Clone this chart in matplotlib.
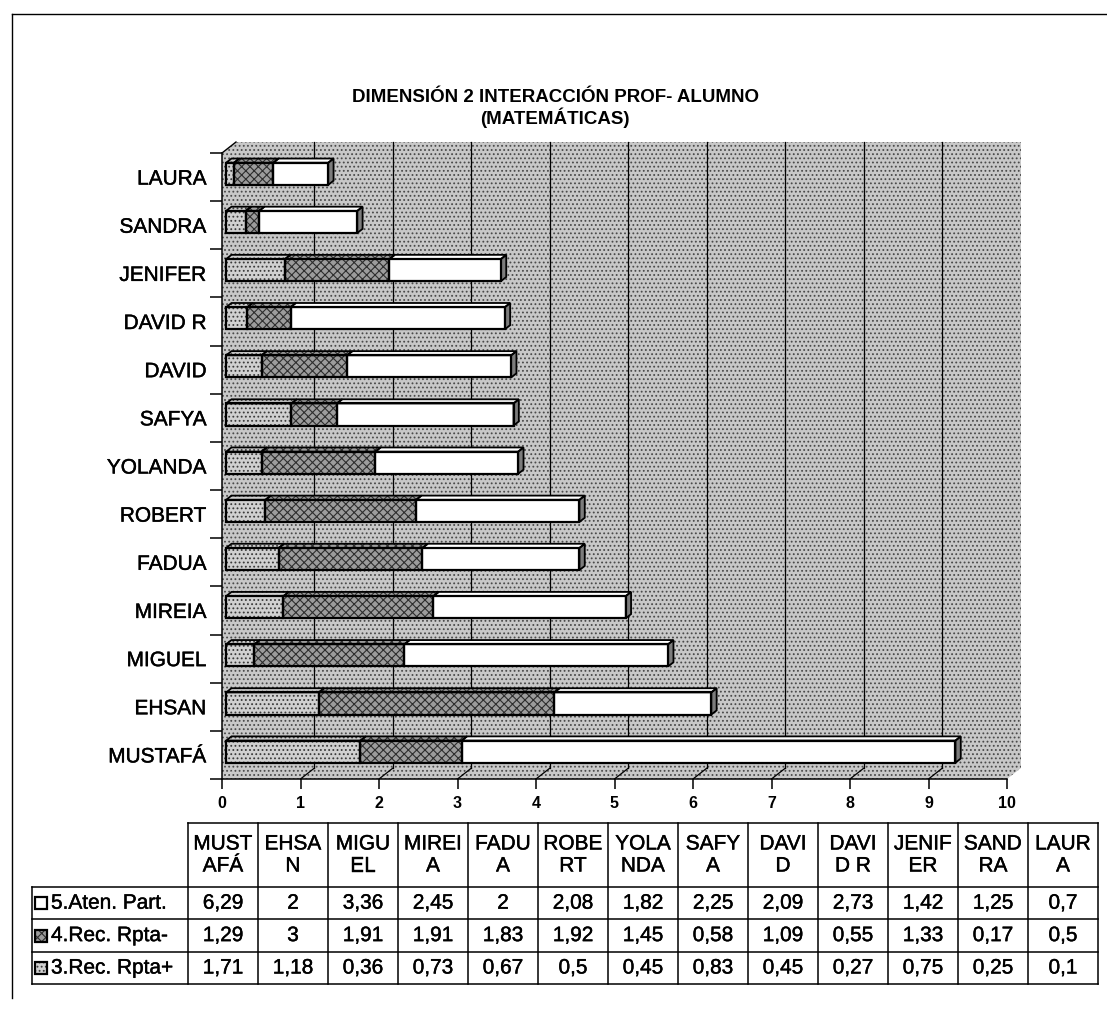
import numpy as np
import matplotlib.pyplot as plt
import matplotlib.patheffects as pe
from matplotlib.patches import Polygon, Rectangle
from matplotlib.lines import Line2D

plt.rcParams['font.family'] = ['Liberation Sans', 'DejaVu Sans']
plt.rcParams['hatch.linewidth'] = 0.8

# ---------------------------------------------------------------------------
# DATA  (bottom of the chart first, same order as the table columns)
# ---------------------------------------------------------------------------

names = ["MUSTAFÁ", "EHSAN", "MIGUEL", "MIREIA", "FADUA", "ROBERT", "YOLANDA",
         "SAFYA", "DAVID", "DAVID R", "JENIFER", "SANDRA", "LAURA"]
heads = ["MUST\nAFÁ", "EHSA\nN", "MIGU\nEL", "MIREI\nA", "FADU\nA", "ROBE\nRT",
         "YOLA\nNDA", "SAFY\nA", "DAVI\nD", "DAVI\nD R", "JENIF\nER", "SAND\nRA",
         "LAUR\nA"]

aten_part = [6.29, 2, 3.36, 2.45, 2, 2.08, 1.82, 2.25, 2.09, 2.73, 1.42, 1.25, 0.7]
rec_neg   = [1.29, 3, 1.91, 1.91, 1.83, 1.92, 1.45, 0.58, 1.09, 0.55, 1.33, 0.17, 0.5]
rec_pos   = [1.71, 1.18, 0.36, 0.73, 0.67, 0.5, 0.45, 0.83, 0.45, 0.27, 0.75, 0.25, 0.1]

series_labels = ["5.Aten. Part.", "4.Rec. Rpta-", "3.Rec. Rpta+"]

title_1 = "DIMENSIÓN 2 INTERACCIÓN PROF- ALUMNO"
title_2 = "(MATEMÁTICAS)"

# fill styles: (base colour, hatch, hatch colour)
STY_WALL = ('#c8c8c8', '....', '#4a4a4a')
STY_POS  = ('#d0d0d0', '....', '#3a3a3a')
STY_NEG  = ('#9c9c9c', 'xxxx', '#2e2e2e')
STY_ATEN = ('#ffffff', '', '#ffffff')

# slightly thickened glyphs for the labels and the table
heavy = [pe.withStroke(linewidth=0.3, foreground='black')]

# ---------------------------------------------------------------------------
# FIGURE / AXES
# ---------------------------------------------------------------------------

W, H = 1107, 1009


def fx(px):
    return px / W


def fy(py):
    return 1 - py / H


fig = plt.figure(figsize=(W / 100, H / 100), dpi=100)
ax = fig.add_axes([fx(222), fy(779), fx(1007) - fx(222), fy(153) - fy(779)])
ax.set_xlim(0, 10)
ax.set_ylim(-0.5, 12.5)

DX, DY = 0.178, 0.228      # depth of the 3-D box in data units
F1 = 0.30                  # bar front plane (fraction of box depth)
FB = 0.38                  # bar thickness (fraction of box depth)
BH = 0.46                  # bar face height


def shaded(xy, style, z, outline=None, lw=1.0):
    base, hatch, hcol = style
    ax.add_patch(Polygon(xy, closed=True, facecolor=base, edgecolor=hcol,
                         hatch=hatch, lw=0, zorder=z, clip_on=False))
    if outline:
        ax.add_patch(Polygon(xy, closed=True, fill=False, edgecolor=outline,
                             lw=lw, zorder=z + 0.1, clip_on=False))


# walls and floor
y0, y1 = -0.5, 12.5
shaded([(DX, y0 + DY), (10 + DX, y0 + DY), (10 + DX, y1 + DY), (DX, y1 + DY)], STY_WALL, 0)
shaded([(0, y0), (DX, y0 + DY), (DX, y1 + DY), (0, y1)], STY_WALL, 0)
shaded([(0, y0), (10, y0), (10 + DX, y0 + DY), (DX, y0 + DY)], STY_WALL, 0)

for k in range(1, 10):
    ax.plot([k + DX, k + DX], [y0 + DY, y1 + DY], color='k', lw=0.9, zorder=1, clip_on=False)
    ax.plot([k, k + DX], [y0, y0 + DY], color='k', lw=0.9, zorder=1, clip_on=False)
ax.plot([0, DX], [y1, y1 + DY], color='k', lw=1.0, zorder=1, clip_on=False)

# ---------------------------------------------------------------------------
# STACKED 3-D BARS
# ---------------------------------------------------------------------------

ypos = np.arange(len(names))
yc = ypos + F1 * DY
pos = np.array(rec_pos)
neg = np.array(rec_neg)
att = np.array(aten_part)
segments = [(pos, np.zeros_like(pos), STY_POS),
            (neg, pos, STY_NEG),
            (att, pos + neg, STY_ATEN)]

bdx, bdy = FB * DX, FB * DY
for vals, lefts, sty in segments:
    base, hatch, hcol = sty
    x0 = lefts + F1 * DX
    ax.barh(yc, vals, left=x0, height=BH, color=base, edgecolor=hcol,
            hatch=hatch, lw=0, zorder=3)
    ax.barh(yc, vals, left=x0, height=BH, fill=False, edgecolor='k',
            lw=1.6, zorder=4)
    for xl, w, y in zip(x0, vals, yc):
        yt = y + BH / 2
        shaded([(xl, yt), (xl + w, yt), (xl + w + bdx, yt + bdy), (xl + bdx, yt + bdy)],
               sty, 3, outline='k', lw=1.3)

# end caps of the bars
ends = pos + neg + att + F1 * DX
for xe, y in zip(ends, yc):
    yb, yt = y - BH / 2, y + BH / 2
    shaded([(xe, yb), (xe + bdx, yb + bdy), (xe + bdx, yt + bdy), (xe, yt)],
           ('#7c7c7c', '', '#7c7c7c'), 3, outline='k', lw=1.3)

# ---------------------------------------------------------------------------
# AXES DECORATION
# ---------------------------------------------------------------------------

for s in ['top', 'right']:
    ax.spines[s].set_visible(False)
for s in ['left', 'bottom']:
    ax.spines[s].set_linewidth(1.1)
    ax.spines[s].set_zorder(2)

ax.set_xticks(range(11))
ax.tick_params(axis='x', length=7, width=1.1, direction='out', pad=5, labelsize=11.5)
for lbl in ax.get_xticklabels():
    lbl.set_fontweight('bold')

ax.set_yticks(ypos)
ax.set_yticklabels(names, fontsize=15)
for lbl in ax.get_yticklabels():
    lbl.set_path_effects(heavy)
ax.set_yticks(np.arange(-0.5, 13, 1), minor=True)
ax.tick_params(axis='y', which='major', length=0, pad=11)
ax.tick_params(axis='y', which='minor', length=8.5, width=1.1, direction='out')

fig.text(fx(555), fy(97), title_1, ha='center', va='center', fontsize=13.5, fontweight='bold')
fig.text(fx(555), fy(118), title_2, ha='center', va='center', fontsize=13.5, fontweight='bold')

# outer frame
fig.add_artist(Line2D([fx(12), fx(12)], [fy(14), fy(998)], color='k', lw=1))
fig.add_artist(Line2D([fx(12), 1], [fy(14), fy(14)], color='k', lw=1))

# ---------------------------------------------------------------------------
# DATA TABLE
# ---------------------------------------------------------------------------

c0, cw = 188, 70
lab_x0 = 32
head_top, head_bot, rh = 823, 887, 32.4
n = len(names)
c1 = c0 + n * cw
row_y = [head_bot + i * rh for i in range(4)]


def hline(py, xa, xb):
    fig.add_artist(Line2D([fx(xa), fx(xb)], [fy(py), fy(py)], color='k', lw=1.1))


def vline(px, ya, yb):
    fig.add_artist(Line2D([fx(px), fx(px)], [fy(ya), fy(yb)], color='k', lw=1.1))


hline(head_top, c0, c1)
for py in row_y:
    hline(py, lab_x0, c1)
vline(lab_x0, head_bot, row_y[-1])
for j in range(n + 1):
    vline(c0 + j * cw, head_top, row_y[-1])

TFS = 15
for j, hd in enumerate(heads):
    fig.text(fx(c0 + (j + 0.5) * cw), fy((head_top + head_bot) / 2), hd,
             ha='center', va='center', fontsize=TFS, linespacing=1.2,
             path_effects=heavy)

table_rows = [aten_part, rec_neg, rec_pos]
key_styles = [STY_ATEN, STY_NEG, STY_POS]
for i, (vals, lab, sty) in enumerate(zip(table_rows, series_labels, key_styles)):
    yc_row = row_y[i] + rh / 2
    base, hatch, hcol = sty
    kx, ks = 35, 12
    fig.add_artist(Rectangle((fx(kx), fy(yc_row + ks / 2)), ks / W, ks / H,
                             facecolor=base, edgecolor=hcol, hatch=hatch, lw=0,
                             transform=fig.transFigure))
    fig.add_artist(Rectangle((fx(kx), fy(yc_row + ks / 2)), ks / W, ks / H,
                             fill=False, edgecolor='k', lw=1.6,
                             transform=fig.transFigure))
    fig.text(fx(kx + ks + 4), fy(yc_row), lab, ha='left', va='center', fontsize=TFS,
             path_effects=heavy)
    for j, v in enumerate(vals):
        fig.text(fx(c0 + (j + 0.5) * cw), fy(yc_row), f"{v:g}".replace('.', ','),
                 ha='center', va='center', fontsize=TFS, path_effects=heavy)

fig.savefig("out.png", dpi=100)
